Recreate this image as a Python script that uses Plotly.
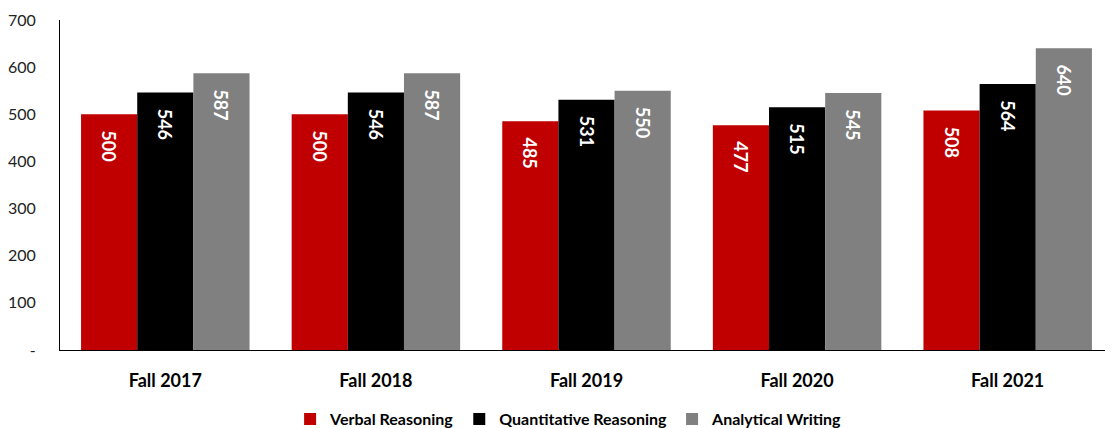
import plotly.graph_objects as go

categories = ["Fall 2017", "Fall 2018", "Fall 2019", "Fall 2020", "Fall 2021"]
verbal = [500, 500, 485, 477, 508]
quant = [546, 546, 531, 515, 564]
writing = [587, 587, 550, 545, 640]
series_names = ["Verbal Reasoning", "Quantitative Reasoning", "Analytical Writing"]
colors = ["#C00000", "#000000", "#808080"]
y_tickvals = [0, 100, 200, 300, 400, 500, 600, 700]
y_ticktext = ["-", "100", "200", "300", "400", "500", "600", "700"]

FONT = "Lato"
fig = go.Figure()
for name, vals, col in zip(series_names, [verbal, quant, writing], colors):
    fig.add_trace(go.Bar(
        x=categories, y=vals, name=name,
        marker=dict(color=col, line=dict(width=0)),
        text=["\u00a0\u00a0\u00a0" + str(v) for v in vals],
        textposition="inside", insidetextanchor="end",
        textangle=90, constraintext="none",
        textfont=dict(color="white", size=18, family=FONT, weight="bold"),
    ))

fig.update_layout(
    width=1105, height=420,
    margin=dict(l=49, r=0, t=12, b=78),
    paper_bgcolor="white", plot_bgcolor="white",
    barmode="group", bargap=0.2, bargroupgap=0,
    showlegend=True,
    legend=dict(orientation="h", x=0.483, xanchor="center",
                yref="container", y=0.021, yanchor="middle",
                font=dict(family=FONT, size=16, color="black", weight="bold"),
                itemwidth=30, tracegroupgap=0),
    xaxis=dict(showline=True, linecolor="black", linewidth=1, ticks="",
               ticklabelstandoff=14,
               tickfont=dict(family=FONT, size=18, color="black", weight="bold"),
               showgrid=False),
    yaxis=dict(range=[0, 700], tickvals=y_tickvals, ticktext=y_ticktext,
               showline=True, linecolor="black", linewidth=1, showgrid=False,
               ticks="", ticklabelstandoff=20,
               tickfont=dict(family=FONT, size=16, color="#222222"), zeroline=False),
    uniformtext=dict(mode=False),
)
fig.write_html("out.html")
